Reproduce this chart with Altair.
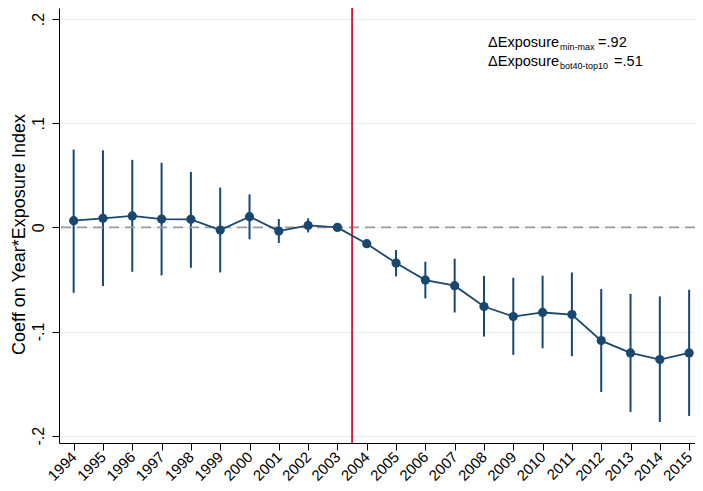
import altair as alt
import pandas as pd

# ---- data ----
years = list(range(1994, 2016))
coef = [0.0064, 0.0087, 0.0110, 0.0080, 0.0077, -0.0026, 0.0103, -0.0035, 0.0019, 0.0000,
        -0.0157, -0.0343, -0.0506, -0.0560, -0.0760, -0.0856, -0.0817, -0.0837, -0.1087,
        -0.1205, -0.1269, -0.1205]
ci_low = [-0.0628, -0.0564, -0.0426, -0.0461, -0.0388, -0.0432, -0.0115, -0.0150, -0.0048, 0.0000,
          -0.0160, -0.0471, -0.0682, -0.0817, -0.1048, -0.1224, -0.1160, -0.1237, -0.1580,
          -0.1772, -0.1868, -0.1810]
ci_high = [0.0747, 0.0740, 0.0648, 0.0619, 0.0532, 0.0382, 0.0317, 0.0080, 0.0087, 0.0000,
           -0.0154, -0.0218, -0.0330, -0.0301, -0.0467, -0.0484, -0.0464, -0.0433, -0.0592,
           -0.0638, -0.0663, -0.0599]
y_ticks = [-0.2, -0.1, 0.0, 0.1, 0.2]
event_year = [2003.5]
zero_line = [0.0]
ann_main = ["ΔExposure", "ΔExposure"]
ann_sub = ["min-max", "bot40-top10"]
ann_val = ["=.92", "=.51"]
ann_x = [2008.14, 2008.14]
ann_y = [0.1732, 0.1549]

df = pd.DataFrame({"year": years, "coef": coef, "lo": ci_low, "hi": ci_high})
ann = pd.DataFrame({"x": ann_x, "y": ann_y, "main": ann_main, "sub": ann_sub, "val": ann_val})

FONT = "Liberation Sans"
NAVY = "#1a476f"

xscale = alt.Scale(domain=[1993.5, 2015.2], nice=False, zero=False)
yscale = alt.Scale(domain=[-0.207, 0.2106], nice=False, zero=False)

xaxis = alt.Axis(values=years, format="d", labelAngle=315, labelAlign="right",
                 labelBaseline="middle", labelPadding=4, tickSize=7, grid=False,
                 title=None, labelFontSize=15, labelFont=FONT, labelOverlap=False)
yaxis = alt.Axis(values=y_ticks,
                 labelExpr="datum.value == 0 ? '0' : (datum.value < 0 ? '-' : '') + replace(format(abs(datum.value), '.1f'), '0.', '.')",
                 labelAngle=270, labelAlign="center", labelBaseline="alphabetic",
                 labelPadding=9, tickSize=7, grid=True, gridColor="#e8eff1", gridWidth=1.5,
                 labelFontSize=16, labelFont=FONT,
                 title="Coeff on Year*Exposure Index", titleX=-35, titleY=226, titleAngle=270,
                 titleAlign="center", titleBaseline="alphabetic", titleFontSize=18,
                 titleFontWeight="normal", titleFont=FONT)


def X(field):
    return alt.X(field, scale=xscale, axis=xaxis)


def Y(field):
    return alt.Y(field, scale=yscale, axis=yaxis)


zero = alt.Chart(pd.DataFrame({"y": zero_line})).mark_rule(
    color="#9a9a9a", strokeDash=[10, 6], strokeWidth=1.8
).encode(y=Y("y:Q"))

vline = alt.Chart(pd.DataFrame({"x": event_year})).mark_rule(
    color="#d4123a", strokeWidth=1.8
).encode(x=X("x:Q"))

ci = alt.Chart(df).mark_rule(color=NAVY, strokeWidth=2).encode(
    x=X("year:Q"), y=Y("lo:Q"), y2="hi:Q",
)

line = alt.Chart(df).mark_line(color=NAVY, strokeWidth=1.8).encode(
    x=X("year:Q"), y=Y("coef:Q"),
)

pts = alt.Chart(df).mark_circle(color=NAVY, size=85, opacity=1).encode(
    x=X("year:Q"), y=Y("coef:Q"),
)

txt_base = alt.Chart(ann).encode(x=X("x:Q"), y=Y("y:Q"))
t_main = txt_base.mark_text(align="left", baseline="alphabetic", font=FONT, fontSize=14.5,
                            color="black").encode(text="main:N")
t_sub = txt_base.mark_text(align="left", baseline="alphabetic", font=FONT, fontSize=9,
                           color="black", dx=72, dy=3).encode(text="sub:N")
t_val1 = alt.Chart(ann.iloc[[0]]).mark_text(align="left", baseline="alphabetic", font=FONT,
                                            fontSize=14.5, color="black", dx=110).encode(
    x=X("x:Q"), y=Y("y:Q"), text="val:N")
t_val2 = alt.Chart(ann.iloc[[1]]).mark_text(align="left", baseline="alphabetic", font=FONT,
                                            fontSize=14.5, color="black", dx=126).encode(
    x=X("x:Q"), y=Y("y:Q"), text="val:N")

chart = alt.layer(ci, zero, vline, line, pts, t_main, t_sub, t_val1, t_val2).properties(
    width=636, height=435,
    autosize=alt.AutoSizeParams(type="none"),
    padding={"left": 51, "top": 0, "right": 0, "bottom": 40},
).configure_view(stroke=None).configure_axis(
    domainColor="black", tickColor="black", labelColor="black", titleColor="black",
    domainWidth=1, tickWidth=1,
)

chart.save("out.html", embed_options={"renderer": "svg", "actions": False})
